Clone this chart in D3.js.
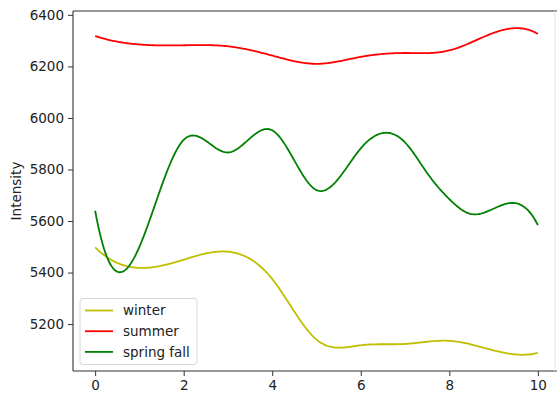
<!DOCTYPE html>
<html>
<head>
<meta charset="utf-8">
<script src="https://cdn.jsdelivr.net/npm/d3@7"></script>
<style>
  html, body { margin: 0; padding: 0; background: #fff; }
  svg { display: block; font-family: "DejaVu Sans", sans-serif; }
</style>
</head>
<body>
<svg id="chart" width="557" height="398"></svg>
<script>
// Sample positions and seasonal intensity readings
const xs = [0, 1, 2, 3, 4, 5, 6, 7, 8, 9, 10];
const winter = [5498, 5418, 5450, 5481, 5375, 5140, 5118, 5123, 5135, 5098, 5088];
const summer = [6318, 6285, 6282, 6278, 6242, 6210, 6237, 6252, 6262, 6330, 6326];
// spring/fall is read at finer steps towards the end of the range
const springFallX = [0, 1, 2, 3, 4, 5, 6, 7, 7.5, 8, 8.5, 9, 9.5, 10];
const springFall = [5640, 5500, 5915, 5866, 5952, 5720, 5882, 5905, 5786, 5685, 5627, 5648, 5669, 5584];

const seriesNames = ["winter", "summer", "spring fall"];
const seriesColors = ["#bfbf00", "#ff0000", "#008000"];
const xTicks = [0, 2, 4, 6, 8, 10];
const yTicks = [5200, 5400, 5600, 5800, 6000, 6200, 6400];

// Cubic spline with not-a-knot end conditions, sampled densely for drawing
function notAKnotSpline(px, py, samples) {
  const n = px.length;
  const h = [];
  for (let i = 0; i < n - 1; i++) h.push(px[i + 1] - px[i]);
  const A = Array.from({ length: n }, () => new Array(n).fill(0));
  const r = new Array(n).fill(0);
  // end conditions: continuous third derivative at the 2nd and 2nd-last knots
  A[0][0] = h[1]; A[0][1] = -(h[0] + h[1]); A[0][2] = h[0];
  A[n - 1][n - 3] = h[n - 2]; A[n - 1][n - 2] = -(h[n - 3] + h[n - 2]); A[n - 1][n - 1] = h[n - 3];
  for (let i = 1; i < n - 1; i++) {
    A[i][i - 1] = h[i - 1];
    A[i][i] = 2 * (h[i - 1] + h[i]);
    A[i][i + 1] = h[i];
    r[i] = 6 * ((py[i + 1] - py[i]) / h[i] - (py[i] - py[i - 1]) / h[i - 1]);
  }
  // Gaussian elimination with partial pivoting
  for (let c = 0; c < n; c++) {
    let p = c;
    for (let k = c + 1; k < n; k++) if (Math.abs(A[k][c]) > Math.abs(A[p][c])) p = k;
    [A[c], A[p]] = [A[p], A[c]]; [r[c], r[p]] = [r[p], r[c]];
    for (let k = c + 1; k < n; k++) {
      const f = A[k][c] / A[c][c];
      if (f === 0) continue;
      for (let j = c; j < n; j++) A[k][j] -= f * A[c][j];
      r[k] -= f * r[c];
    }
  }
  const M = new Array(n).fill(0);
  for (let i = n - 1; i >= 0; i--) {
    let s = r[i];
    for (let j = i + 1; j < n; j++) s -= A[i][j] * M[j];
    M[i] = s / A[i][i];
  }
  const out = [];
  const x0 = px[0], x1 = px[n - 1];
  for (let s = 0; s < samples; s++) {
    const xv = x0 + (x1 - x0) * s / (samples - 1);
    let i = Math.min(n - 2, Math.max(0, d3.bisectRight(px, xv) - 1));
    const t = xv - px[i], hi = h[i];
    const b = (py[i + 1] - py[i]) / hi - hi * (2 * M[i] + M[i + 1]) / 6;
    const yv = py[i] + b * t + M[i] / 2 * t * t + (M[i + 1] - M[i]) / (6 * hi) * t * t * t;
    out.push([xv, yv]);
  }
  return out;
}

const svg = d3.select("#chart");
const plotL = 73, plotT = 11, plotR = 560, plotB = 371;

const x = d3.scaleLinear().domain([-0.5, 10.5]).range([plotL, plotR]);
const y = d3.scaleLinear().domain([5018, 6415]).range([plotB, plotT]);

svg.append("defs").append("clipPath").attr("id", "plotClip")
  .append("rect").attr("x", plotL).attr("y", plotT)
  .attr("width", plotR - plotL).attr("height", plotB - plotT);

const line = d3.line()
  .x(d => x(d[0]))
  .y(d => y(d[1]));

const allSeries = [[xs, winter], [xs, summer], [springFallX, springFall]];
const g = svg.append("g").attr("clip-path", "url(#plotClip)");
allSeries.forEach(([sx, sy], i) => {
  g.append("path")
    .datum(notAKnotSpline(sx, sy, 400))
    .attr("d", line)
    .attr("fill", "none")
    .attr("stroke", seriesColors[i])
    .attr("stroke-width", 1.8)
    .attr("stroke-linejoin", "round")
    .attr("stroke-linecap", "butt");
});

// Axes
const xAxis = d3.axisBottom(x).tickValues(xTicks).tickSize(5).tickPadding(4)
  .tickFormat(d3.format("d"));
const yAxis = d3.axisLeft(y).tickValues(yTicks).tickSize(5).tickPadding(4)
  .tickFormat(d3.format("d"));

const gx = svg.append("g").attr("transform", `translate(0,${plotB})`).call(xAxis);
const gy = svg.append("g").attr("transform", `translate(${plotL},0)`).call(yAxis);
[gx, gy].forEach(a => {
  a.select(".domain").remove();
  a.selectAll(".tick line").attr("stroke", "#333").attr("stroke-width", 1);
  a.selectAll(".tick text").attr("fill", "#222").style("font-size", "13.5px")
    .style("font-family", "'DejaVu Sans', sans-serif");
});

// Frame
svg.append("line").attr("x1", plotL).attr("x2", plotL).attr("y1", plotT).attr("y2", plotB)
  .attr("stroke", "#333").attr("stroke-width", 1.1);
svg.append("line").attr("x1", plotL).attr("x2", 557).attr("y1", plotB).attr("y2", plotB)
  .attr("stroke", "#333").attr("stroke-width", 1.1);
svg.append("line").attr("x1", plotL).attr("x2", 557).attr("y1", plotT).attr("y2", plotT)
  .attr("stroke", "#333").attr("stroke-width", 1.1);
svg.append("line").attr("x1", 555).attr("x2", 555).attr("y1", plotT).attr("y2", plotB)
  .attr("stroke", "#e4e4e4").attr("stroke-width", 1);

// Y label
svg.append("text")
  .attr("transform", `translate(21,${(plotT + plotB) / 2}) rotate(-90)`)
  .attr("text-anchor", "middle")
  .attr("fill", "#222")
  .style("font-size", "13.5px")
  .text("Intensity");

// Legend
const lg = svg.append("g");
lg.append("rect").attr("x", 80).attr("y", 298.5).attr("width", 117).attr("height", 66)
  .attr("rx", 3).attr("fill", "#fff").attr("fill-opacity", 0.8)
  .attr("stroke", "#d6d6d6").attr("stroke-width", 1);
seriesNames.forEach((name, i) => {
  const cy = 310.5 + i * 20.7;
  lg.append("line").attr("x1", 85).attr("x2", 113).attr("y1", cy).attr("y2", cy)
    .attr("stroke", seriesColors[i]).attr("stroke-width", 1.8);
  lg.append("text").attr("x", 123).attr("y", cy).attr("dy", "0.35em")
    .attr("fill", "#222").style("font-size", "13.5px").text(name);
});
</script>
</body>
</html>
